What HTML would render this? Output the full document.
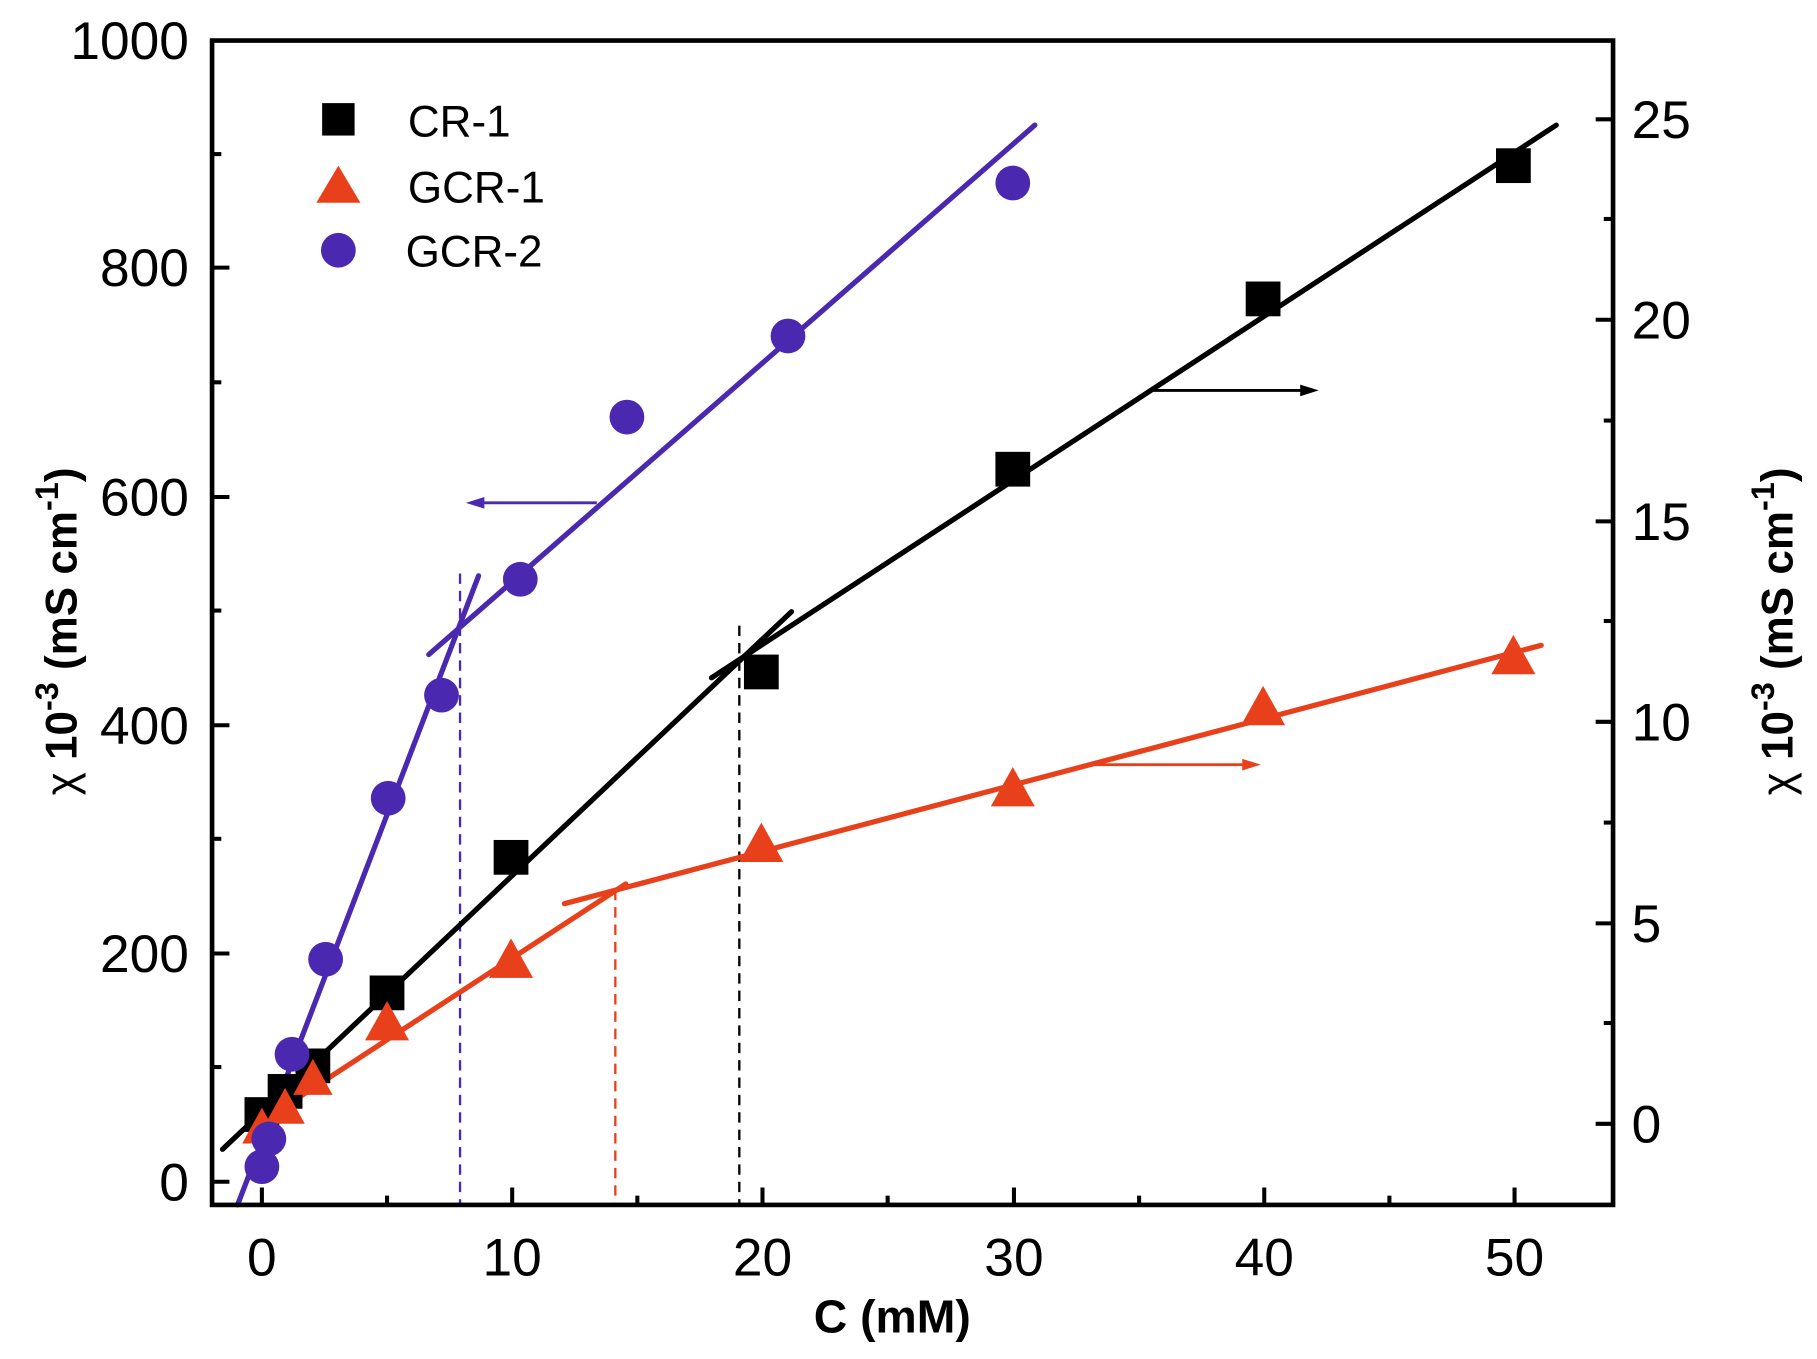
<!DOCTYPE html>
<html><head><meta charset="utf-8"><style>html,body{margin:0;padding:0;background:#fff}svg{display:block}</style></head>
<body>
<svg width="1817" height="1359" viewBox="0 0 1568 1173" preserveAspectRatio="none" xmlns="http://www.w3.org/2000/svg" font-family="Liberation Sans, Arial, sans-serif">
<rect width="1568" height="1173" fill="#fff"/>
<g stroke-width="2" stroke-dasharray="9,6" fill="none">
<line x1="397" y1="495" x2="397" y2="1040" stroke="#4a28b0"/>
<line x1="531" y1="768" x2="531" y2="1040" stroke="#e8401a"/>
<line x1="638" y1="540" x2="638" y2="1040" stroke="#000"/>
</g>
<g stroke-width="4.5" fill="none" stroke-linecap="round">
<line x1="192" y1="992" x2="683" y2="528" stroke="#000"/>
<line x1="614" y1="585" x2="1343" y2="108" stroke="#000"/>
<line x1="226" y1="968" x2="540" y2="763" stroke="#e8401a"/>
<line x1="487" y1="780" x2="1330" y2="557" stroke="#e8401a"/>
<line x1="205" y1="1040" x2="413" y2="497" stroke="#4a28b0"/>
<line x1="370" y1="565" x2="893" y2="108" stroke="#4a28b0"/>
</g>
<g stroke-width="2.5">
<line x1="515" y1="434" x2="410" y2="434" stroke="#4a28b0"/>
<polygon points="402,434 418,429 418,439" fill="#4a28b0"/>
<line x1="995" y1="337" x2="1128" y2="337" stroke="#000"/>
<polygon points="1138,337 1122,332 1122,342" fill="#000"/>
<line x1="945" y1="660" x2="1078" y2="660" stroke="#e8401a"/>
<polygon points="1088,660 1072,655 1072,665" fill="#e8401a"/>
</g>
<g fill="#000">
<rect x="211" y="947" width="30" height="30"/><rect x="231" y="927" width="30" height="30"/><rect x="255" y="905" width="30" height="30"/>
<rect x="319" y="842" width="30" height="30"/><rect x="426" y="725" width="30" height="30"/><rect x="642" y="565" width="30" height="30"/>
<rect x="859" y="390" width="30" height="30"/><rect x="1075" y="243" width="30" height="30"/><rect x="1291" y="128" width="30" height="30"/>
</g>
<g fill="#e8401a">
<polygon points="226,956 209,987 243,987"/><polygon points="246,939 229,970 263,970"/><polygon points="270,914 253,945 287,945"/>
<polygon points="334,864 315,898 353,898"/><polygon points="441,810 422,844 460,844"/><polygon points="657,710 638,744 676,744"/>
<polygon points="874,662 855,696 893,696"/><polygon points="1090,592 1071,626 1109,626"/><polygon points="1306,548 1287,582 1325,582"/>
</g>
<g fill="#4a28b0">
<circle cx="226" cy="1007" r="15"/><circle cx="232" cy="983" r="15"/><circle cx="252" cy="910" r="15"/>
<circle cx="281" cy="828" r="15"/><circle cx="335" cy="689" r="15"/><circle cx="381" cy="600" r="15"/>
<circle cx="449" cy="500" r="15"/><circle cx="541" cy="360" r="15"/><circle cx="680" cy="290" r="15"/><circle cx="874" cy="158" r="15"/>
</g>
<rect x="183" y="35" width="1209" height="1005" fill="none" stroke="#000" stroke-width="4"/>
<g stroke="#000" stroke-width="3.5">
<line x1="226" y1="1040" x2="226" y2="1025"/><line x1="334" y1="1040" x2="334" y2="1032"/>
<line x1="442" y1="1040" x2="442" y2="1025"/><line x1="550" y1="1040" x2="550" y2="1032"/>
<line x1="658" y1="1040" x2="658" y2="1025"/><line x1="766" y1="1040" x2="766" y2="1032"/>
<line x1="875" y1="1040" x2="875" y2="1025"/><line x1="983" y1="1040" x2="983" y2="1032"/>
<line x1="1091" y1="1040" x2="1091" y2="1025"/><line x1="1199" y1="1040" x2="1199" y2="1032"/>
<line x1="1307" y1="1040" x2="1307" y2="1025"/>
<line x1="183" y1="1020" x2="198" y2="1020"/><line x1="183" y1="921" x2="191" y2="921"/>
<line x1="183" y1="823" x2="198" y2="823"/><line x1="183" y1="724" x2="191" y2="724"/>
<line x1="183" y1="626" x2="198" y2="626"/><line x1="183" y1="527" x2="191" y2="527"/>
<line x1="183" y1="429" x2="198" y2="429"/><line x1="183" y1="330" x2="191" y2="330"/>
<line x1="183" y1="231" x2="198" y2="231"/><line x1="183" y1="133" x2="191" y2="133"/>
<line x1="1392" y1="970" x2="1377" y2="970"/><line x1="1392" y1="883" x2="1384" y2="883"/>
<line x1="1392" y1="797" x2="1377" y2="797"/><line x1="1392" y1="710" x2="1384" y2="710"/>
<line x1="1392" y1="623" x2="1377" y2="623"/><line x1="1392" y1="536" x2="1384" y2="536"/>
<line x1="1392" y1="450" x2="1377" y2="450"/><line x1="1392" y1="363" x2="1384" y2="363"/>
<line x1="1392" y1="276" x2="1377" y2="276"/><line x1="1392" y1="189" x2="1384" y2="189"/>
<line x1="1392" y1="103" x2="1377" y2="103"/>
</g>
<g font-size="46" fill="#000" text-anchor="middle">
<text x="226" y="1101">0</text><text x="442" y="1101">10</text><text x="658" y="1101">20</text>
<text x="875" y="1101">30</text><text x="1091" y="1101">40</text><text x="1307" y="1101">50</text>
</g>
<g font-size="46" fill="#000" text-anchor="end">
<text x="163" y="1036">0</text><text x="163" y="839">200</text><text x="163" y="642">400</text>
<text x="163" y="445">600</text><text x="163" y="247">800</text><text x="163" y="51">1000</text>
</g>
<g font-size="46" fill="#000" text-anchor="start">
<text x="1408" y="986">0</text><text x="1408" y="813">5</text><text x="1408" y="639">10</text>
<text x="1408" y="466">15</text><text x="1408" y="292">20</text><text x="1408" y="119">25</text>
</g>
<text x="770" y="1150" font-size="40" font-weight="bold" text-anchor="middle">C (mM)</text>
<text transform="translate(66,545) rotate(-90)" font-size="38" font-weight="bold" text-anchor="middle"><tspan font-weight="normal">χ</tspan> 10<tspan font-size="28" dy="-16">-3</tspan><tspan dy="16"> (mS cm</tspan><tspan font-size="28" dy="-16">-1</tspan><tspan dy="16">)</tspan></text>
<text transform="translate(1547,545) rotate(-90)" font-size="38" font-weight="bold" text-anchor="middle"><tspan font-weight="normal">χ</tspan> 10<tspan font-size="28" dy="-16">-3</tspan><tspan dy="16"> (mS cm</tspan><tspan font-size="28" dy="-16">-1</tspan><tspan dy="16">)</tspan></text>
<rect x="278" y="89" width="28" height="28" fill="#000"/>
<polygon points="292,143 273,175 311,175" fill="#e8401a"/>
<circle cx="292" cy="216" r="15" fill="#4a28b0"/>
<g font-size="38" fill="#000">
<text x="352" y="118">CR-1</text><text x="352" y="175">GCR-1</text><text x="350" y="230">GCR-2</text>
</g>
</svg>
</body></html>
